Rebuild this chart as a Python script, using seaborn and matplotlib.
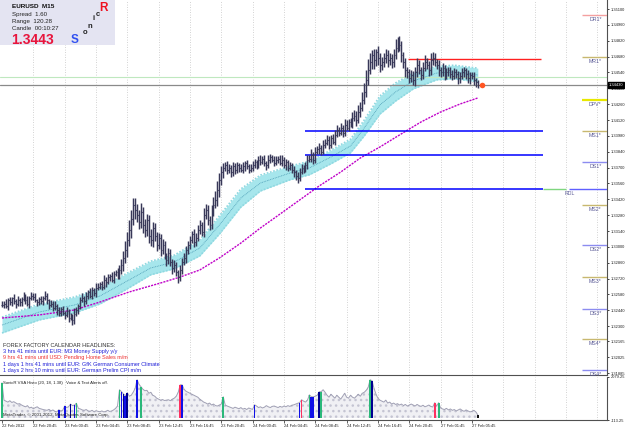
import numpy as np
import matplotlib
matplotlib.use("Agg")
import matplotlib.pyplot as plt
import matplotlib.transforms as mtransforms
from matplotlib.patches import Rectangle
import seaborn as sns

sns.set_theme(style="white")
plt.rcParams["font.family"] = ["Liberation Sans", "DejaVu Sans"]

W, H = 625, 429

# EURUSD M15 bars, prices in pips above 1.3200
close_pips = [
    49, 50, 48, 53, 51, 55, 52, 50, 53, 51,
    54, 57, 53, 50, 55, 57, 56, 53, 51, 54,
    52, 55, 57, 53, 49, 50, 46, 48, 44, 42,
    45, 42, 40, 43, 37, 39, 35, 41, 44, 48,
    53, 55, 52, 57, 60, 57, 62, 59, 64, 65,
    67, 65, 71, 69, 73, 74, 71, 76, 78, 75,
    80, 84, 90, 97, 106, 115, 125, 137, 133, 128,
    122, 131, 119, 115, 124, 110, 106, 117, 110, 102,
    108, 97, 102, 93, 88, 95, 87, 81, 84, 78,
    73, 80, 87, 90, 97, 102, 106, 111, 104, 108,
    115, 119, 113, 128, 133, 124, 119, 131, 137, 141,
    150, 159, 166, 170, 172, 168, 170, 166, 171, 168,
    172, 170, 168, 171, 174, 171, 168, 170, 172, 175,
    172, 177, 175, 178, 174, 172, 177, 179, 177, 174,
    177, 178, 174, 177, 172, 175, 170, 172, 168, 166,
    163, 161, 166, 170, 168, 172, 177, 178, 181, 177,
    184, 186, 187, 184, 190, 192, 194, 190, 196, 193,
    199, 203, 201, 205, 201, 208, 205, 210, 208, 214,
    216, 212, 219, 223, 230, 237, 247, 256, 263, 269,
    265, 272, 267, 261, 263, 267, 269, 265, 267, 263,
    269, 276, 281, 278, 269, 263, 256, 254, 249, 252,
    247, 254, 261, 256, 252, 258, 263, 261, 256, 265,
    267, 263, 261, 256, 254, 258, 252, 254, 256, 253,
    251, 254, 253, 249, 251, 254, 256, 253, 249, 252,
    251, 247, 246, 243,
]
up_wick = [
    3, 2, 4, 2, 3, 1, 3, 2, 4, 2,
    2, 3, 1, 4, 2, 3, 2, 3, 1, 2,
    3, 2, 4, 2, 1, 3, 2, 4, 2, 3,
    2, 3, 1, 4, 2, 3, 2, 5, 3, 2,
    3, 4, 2, 3, 2, 4, 3, 2, 4, 3,
    2, 3, 4, 2, 3, 2, 4, 3, 2, 3,
    4, 5, 6, 8, 7, 9, 8, 6, 6, 5,
    5, 8, 4, 6, 5, 4, 6, 5, 4, 3,
    4, 3, 5, 3, 2, 4, 3, 2, 4, 3,
    2, 4, 3, 5, 4, 3, 4, 3, 5, 4,
    4, 5, 3, 6, 5, 4, 3, 6, 7, 8,
    8, 6, 5, 4, 3, 4, 3, 2, 4, 3,
    3, 2, 3, 4, 2, 3, 2, 3, 4, 3,
    2, 3, 4, 2, 3, 2, 4, 3, 2, 3,
    3, 2, 3, 4, 2, 3, 2, 3, 2, 3,
    2, 3, 4, 3, 2, 3, 4, 3, 5, 3,
    4, 3, 5, 3, 4, 3, 5, 4, 3, 4,
    4, 5, 3, 4, 3, 5, 4, 3, 4, 5,
    5, 4, 6, 5, 7, 8, 9, 10, 8, 5,
    6, 3, 5, 4, 5, 4, 6, 5, 4, 3,
    6, 8, 4, 5, 4, 3, 4, 3, 3, 4,
    3, 5, 6, 4, 3, 5, 6, 4, 3, 6,
    5, 4, 3, 4, 3, 4, 3, 4, 3, 3,
    3, 4, 3, 2, 3, 4, 3, 2, 3, 2,
    2, 3, 2, 1,
]
dn_wick = [
    2, 3, 2, 4, 2, 3, 2, 4, 2, 3,
    3, 2, 3, 2, 4, 2, 3, 2, 3, 2,
    2, 3, 2, 3, 4, 2, 3, 2, 4, 3,
    3, 2, 4, 2, 3, 2, 4, 3, 2, 3,
    3, 2, 4, 2, 3, 2, 3, 2, 3, 2,
    2, 3, 2, 4, 2, 3, 2, 3, 2, 3,
    3, 4, 5, 4, 6, 5, 7, 6, 8, 6,
    6, 5, 7, 6, 5, 7, 5, 6, 5, 6,
    4, 5, 3, 4, 5, 3, 4, 5, 3, 4,
    5, 3, 4, 3, 4, 3, 4, 3, 4, 3,
    3, 4, 3, 4, 3, 5, 4, 3, 4, 3,
    5, 6, 4, 5, 3, 4, 3, 4, 3, 4,
    3, 4, 2, 3, 4, 2, 3, 2, 3, 2,
    3, 2, 3, 2, 3, 4, 2, 3, 2, 3,
    2, 3, 2, 3, 2, 4, 3, 2, 3, 4,
    4, 5, 3, 2, 3, 2, 3, 2, 3, 4,
    3, 2, 4, 3, 2, 3, 2, 4, 3, 2,
    3, 2, 3, 2, 4, 3, 2, 3, 2, 3,
    3, 5, 3, 4, 3, 4, 5, 4, 3, 6,
    8, 5, 6, 7, 5, 4, 5, 6, 4, 5,
    4, 3, 4, 5, 6, 5, 6, 5, 4, 3,
    4, 5, 4, 3, 5, 4, 3, 4, 5, 4,
    4, 3, 4, 5, 4, 3, 5, 4, 3, 4,
    4, 3, 4, 5, 4, 3, 4, 5, 4, 5,
    3, 4, 5, 3,
]

# slow EMA (magenta dotted), read at a few bars
ema_bars = [0, 19, 37, 50, 65, 81, 91, 101, 111, 122, 132, 142, 152, 162, 173, 183, 193, 203, 214, 224, 234, 243]
ema_vals = [1.32372, 1.32399, 1.32443, 1.32513, 1.32602, 1.32681, 1.32734, 1.32796, 1.32902, 1.33034, 1.33167,
            1.33290, 1.33414, 1.33538, 1.33661, 1.33785, 1.33882, 1.33988, 1.34103, 1.34191, 1.34262, 1.34315]

# Sonic dragon band (cyan), centre and half width in pips
band_bars = [0, 19, 37, 50, 63, 76, 88, 101, 111, 122, 132, 147, 157, 168, 178, 185, 193, 201, 210, 222, 231, 243]
band_mid = [1.32310, 1.32425, 1.32487, 1.32566, 1.32690, 1.32814, 1.32867, 1.32990, 1.33193, 1.33432, 1.33564,
            1.33652, 1.33697, 1.33794, 1.33891, 1.34050, 1.34253, 1.34368, 1.34465, 1.34535, 1.34544, 1.34518]
band_half = [7, 7, 7, 7, 7, 6, 6, 7, 8, 8, 7, 6, 6, 6, 6, 7, 8, 8, 7, 6, 6, 6]

# VSA volume histogram
volume = [
    1785, 900, 850, 800, 870, 780, 820, 760, 700, 720,
    650, 600, 560, 620, 500, 540, 460, 520, 560, 480,
    450, 420, 400, 380, 430, 350, 400, 330, 300, 410,
    350, 380, 600, 520, 560, 700, 620, 650, 740, 480,
    450, 400, 380, 420, 350, 330, 380, 310, 360, 330,
    310, 350, 300, 330, 380, 320, 350, 400, 480, 600,
    1430, 1330, 1220, 1120, 1280, 1100, 1150, 1300, 1500, 1940,
    1700, 1580, 1450, 1380, 1400, 1250, 1300, 1150, 1100, 1000,
    950, 900, 930, 880, 900, 920, 870, 950, 1000, 1100,
    1300, 1680, 1680, 1450, 1350, 1300, 1250, 1200, 1150, 1100,
    1050, 950, 880, 800, 760, 700, 750, 650, 700, 620,
    600, 650, 700, 1070, 650, 600, 560, 520, 480, 540,
    500, 460, 520, 440, 480, 420, 500, 460, 430, 660,
    600, 520, 560, 500, 540, 620, 560, 520, 580, 600,
    560, 520, 580, 540, 600, 560, 620, 580, 640, 660,
    700, 740, 770, 920, 850, 800, 900, 1170, 1070, 1070,
    1100, 1150, 1330, 1330, 1430, 1300, 1150, 1050, 1200, 1100,
    1000, 1150, 1050, 950, 1100, 1250, 1050, 1000, 1150, 1050,
    1000, 1100, 1200, 1100, 1250, 1300, 1400, 1550, 1940, 1890,
    1500, 1200, 1000, 900, 850, 800, 900, 750, 800, 700,
    750, 680, 720, 650, 700, 620, 680, 600, 650, 700,
    650, 600, 680, 620, 580, 640, 560, 600, 650, 580,
    550, 770, 600, 770, 500, 450, 420, 480, 400, 450,
    380, 420, 350, 400, 450, 380, 330, 400, 350, 300,
    330, 380, 300, 150,
]
vsa_bars = [0, 29, 32, 35, 37, 38, 60, 61, 62, 63, 64, 69, 71, 91, 92, 113, 129, 152, 153,
            157, 158, 159, 162, 163, 188, 189, 221, 223, 243]
vsa_kind = ["g", "b", "b", "n", "b", "g", "g", "b", "n", "b", "n", "b", "g", "r", "b", "g", "b", "b", "r",
            "g", "b", "b", "n", "g", "g", "n", "r", "g", "k"]

time_labels = ["22 Feb 2012", "22 Feb 20:45", "23 Feb 00:45", "23 Feb 04:45", "23 Feb 08:45",
               "23 Feb 12:45", "23 Feb 16:45", "23 Feb 20:45", "24 Feb 00:45", "24 Feb 04:45",
               "24 Feb 08:45", "24 Feb 12:45", "24 Feb 16:45", "24 Feb 20:45", "27 Feb 01:45",
               "27 Feb 05:45"]
price_ticks = [1.35100, 1.34960, 1.34820, 1.34680, 1.34540, 1.34400, 1.34260, 1.34120, 1.33980,
               1.33840, 1.33700, 1.33560, 1.33420, 1.33280, 1.33140, 1.33000, 1.32860, 1.32720,
               1.32580, 1.32440, 1.32300, 1.32165, 1.32025, 1.31885]
last_price = 1.34430

pivot_names = ["DR1*", "MR1*", "DPV*", "MS1*", "DS1*", "MS2*", "DS2*", "MS3*", "DS3*", "MS4*", "DS4*"]
pivot_levels = [1.35048, 1.34677, 1.34297, 1.34023, 1.33750, 1.33370, 1.33017, 1.32734, 1.32452, 1.32187, 1.31913]
pivot_kind = ["r", "m", "p", "m", "d", "m", "d", "m", "d", "m", "d"]
rdl_level = 1.33507
box_high = 1.34659
blue_levels = [1.34023, 1.33811]
ask_level = 1.34500

news = [("FOREX FACTORY CALENDAR HEADLINES:", "#303030"),
        ("3 hrs 41 mins until EUR: M3 Money Supply y/y", "#2020d8"),
        ("9 hrs 41 mins until USD: Pending Home Sales m/m", "#ee3030"),
        ("1 days 1 hrs 41 mins until EUR: GfK German Consumer Climate", "#2020d8"),
        ("1 days 2 hrs 10 mins until EUR: German Prelim CPI m/m", "#2020d8")]

# ---------------------------------------------------------------------------
base = 1.3200
close = base + np.array(close_pips) / 1e4
opens = np.r_[close[0], close[:-1]]
high = np.maximum(opens, close) + np.array(up_wick) / 1e4
low = np.minimum(opens, close) - np.array(dn_wick) / 1e4
idx = np.arange(len(close))

px_per_bar = 1.958
x_lo, x_hi = -2 / px_per_bar, (607 - 2) / px_per_bar


def price_at(y):
    return base + (318 - 0.883 * y) / 1e4


def fx(x):
    return x / W


def fy(y):
    return 1 - y / H


fig = plt.figure(figsize=(W / 100, H / 100), dpi=100)
fig.patch.set_facecolor("white")
ax = fig.add_axes([0, fy(375), fx(607), 375 / H])
axv = fig.add_axes([0, fy(420), fx(607), 43 / H])

grid_bars = np.arange(16, 320, 16)
for a in (ax, axv):
    a.set_facecolor("white")
    a.set_xlim(x_lo, x_hi)
    for s in ("top", "left"):
        a.spines[s].set_visible(False)
    for s in ("right", "bottom"):
        a.spines[s].set_color("#505050")
        a.spines[s].set_linewidth(0.8)
    a.vlines(grid_bars, 0, 1, transform=a.get_xaxis_transform(), colors="#c4c4c4",
             linestyles=(0, (1, 2)), lw=0.6, zorder=0)

ax.set_ylim(price_at(375), price_at(0))

# band and moving average
mid = np.array(band_mid)
half = np.array(band_half) / 1e4
ax.fill_between(band_bars, mid - half, mid + half, color="#a6e6ec", lw=0, zorder=1)
ax.plot(band_bars, mid + half, color="#8fd8e0", lw=1.2, ls=(0, (1, 1)), zorder=1)
ax.plot(band_bars, mid - half, color="#8fd8e0", lw=1.2, ls=(0, (1, 1)), zorder=1)
sns.lineplot(x=band_bars, y=band_mid, ax=ax, color="#4c9db5", lw=0.6, ls=(0, (1, 1)), zorder=2)
sns.lineplot(x=ema_bars, y=ema_vals, ax=ax, color="#c000c8", lw=1.0, ls=(0, (1.5, 0.8)), zorder=2)

# horizontal levels
ax.axhline(ask_level, color="#bfe8bf", lw=0.8, zorder=1)
ax.axhline(last_price, color="#8a8a8a", lw=0.9, zorder=1)
ax.hlines(box_high, 207.4, 275.3, color="#ff2020", lw=1.0, zorder=3)
ax.hlines(blue_levels + [rdl_level], 154.8, 276.3, color="#0000ff", lw=1.1, zorder=3)
ax.hlines(rdl_level, 276.3, 288, color="#7fd67f", lw=1.0, zorder=3)
ax.hlines(rdl_level, 289.5, x_hi, color="#6060ff", lw=1.0, zorder=3)
ax.text(287.5, rdl_level - 0.00032, "RDL", fontsize=3.8, color="#5a5a96", ha="left", va="center")

pcol = {"r": "#f4a0a0", "m": "#c8b870", "p": "#e8e800", "d": "#8c8cf0"}
for name, lev, k in zip(pivot_names, pivot_levels, pivot_kind):
    ax.hlines(lev, 296.2, x_hi, color=pcol[k], lw=1.6 if k == "p" else 1.0, zorder=3)
    ax.text(306.3, lev - 0.00036, name, fontsize=3.8, color="#5a5a96", ha="right", va="center")

# price bars
bar_col = "#383858"
ax.vlines(idx, low, high, color=bar_col, lw=1.05, zorder=4)
ax.hlines(opens, idx - 0.45, idx, color=bar_col, lw=0.8, zorder=4)
ax.hlines(close, idx, idx + 0.45, color=bar_col, lw=0.8, zorder=4)
ax.scatter([245.2], [last_price], s=16, color="#ff5522", zorder=5, lw=0)

# right price scale
ax.yaxis.tick_right()
ax.set_yticks(price_ticks)
ax.set_yticklabels([f"{v:.5f}" for v in price_ticks])
ax.tick_params(axis="y", labelsize=2.9, length=1.5, width=0.6, pad=1.0, colors="#202020", right=True)
ax.set_xticks([])
trans = mtransforms.blended_transform_factory(ax.transAxes, ax.transData)
ax.text(1.003, last_price, "1.34430", transform=trans, fontsize=2.9, color="white", ha="left",
        va="center", bbox=dict(boxstyle="square,pad=0.2", fc="black", ec="black"), zorder=6)

# volume panel
vol = np.array(volume)
axv.set_ylim(-113.25, 2079.25)
axv.fill_between(idx, 0, vol, step="mid", facecolor="#f0f0f4", edgecolor="#c4c4d2", hatch="...",
                 lw=0, zorder=1)
sns.lineplot(x=idx, y=vol, ax=axv, color="#a0a0b4", lw=0.7, zorder=2)
vcol = {"g": "#2bb87a", "b": "#1010e8", "n": "#000090", "r": "#ff3060", "k": "#101010"}
axv.bar(vsa_bars, vol[vsa_bars], width=0.9, color=[vcol[k] for k in vsa_kind], lw=0, zorder=3)
axv.yaxis.tick_right()
axv.set_yticks([2079.25, -113.25])
axv.set_yticklabels(["2079.25", "-113.25"])
axv.tick_params(axis="y", labelsize=2.9, length=1.5, width=0.6, pad=1.0, colors="#202020", right=True)
axv.set_xticks(np.arange(0, 16 * len(time_labels), 16))
axv.set_xticklabels(time_labels, ha="left")
axv.tick_params(axis="x", labelsize=2.9, length=2, width=0.5, pad=0.8, colors="#202020", bottom=True)
axv.set_xlabel("")
axv.set_ylabel("")
ax.set_xlabel("")
ax.set_ylabel("")
axv.text(0.005, 0.86, "SonicR VSA Histo (20, 18, 1.38)   Voice & Text Alerts off.", transform=axv.transAxes,
         fontsize=3.1, color="#202020", va="center")
axv.text(0.005, 0.12, "MetaTrader, \u00a9 2001-2012, MetaQuotes Software Corp.", transform=axv.transAxes,
         fontsize=3.2, color="#202020", va="center", zorder=5)

# info box
fig.patches.append(Rectangle((0, fy(45)), fx(115), 45 / H, transform=fig.transFigure,
                             facecolor="#e4e4f2", edgecolor="none", zorder=5))
fig.text(fx(12), fy(6.5), "EURUSD  M15", fontsize=4.6, weight="bold", color="#111111", va="center", zorder=6)
fig.text(fx(12), fy(14.5), "Spread  1.60", fontsize=4.4, color="#222222", va="center", zorder=6)
fig.text(fx(12), fy(21), "Range  120.28", fontsize=4.4, color="#222222", va="center", zorder=6)
fig.text(fx(12), fy(28), "Candle  00:10:27", fontsize=4.4, color="#222222", va="center", zorder=6)
fig.text(fx(11), fy(39.5), "1.3443", fontsize=10, weight="bold", color="#e8143c", va="center", zorder=6)
for ch, x, y, c, s in [("S", 75, 40, "#3050f0", 8.5), ("o", 85, 33, "#222222", 5.5), ("n", 90, 26, "#222222", 5.5),
                       ("i", 93.5, 19, "#222222", 5.5), ("c", 97.5, 14, "#222222", 5.5),
                       ("R", 104, 8, "#ee1020", 8.5)]:
    fig.text(fx(x), fy(y), ch, fontsize=s, weight="bold", color=c, ha="center", va="center", zorder=6)

# calendar headlines
for k, (txt, c) in enumerate(news):
    fig.text(fx(3), fy(345.5 + 6.2 * k), txt, fontsize=4.0, color=c, va="center")

fig.savefig("out.png", dpi=100, facecolor="white")
